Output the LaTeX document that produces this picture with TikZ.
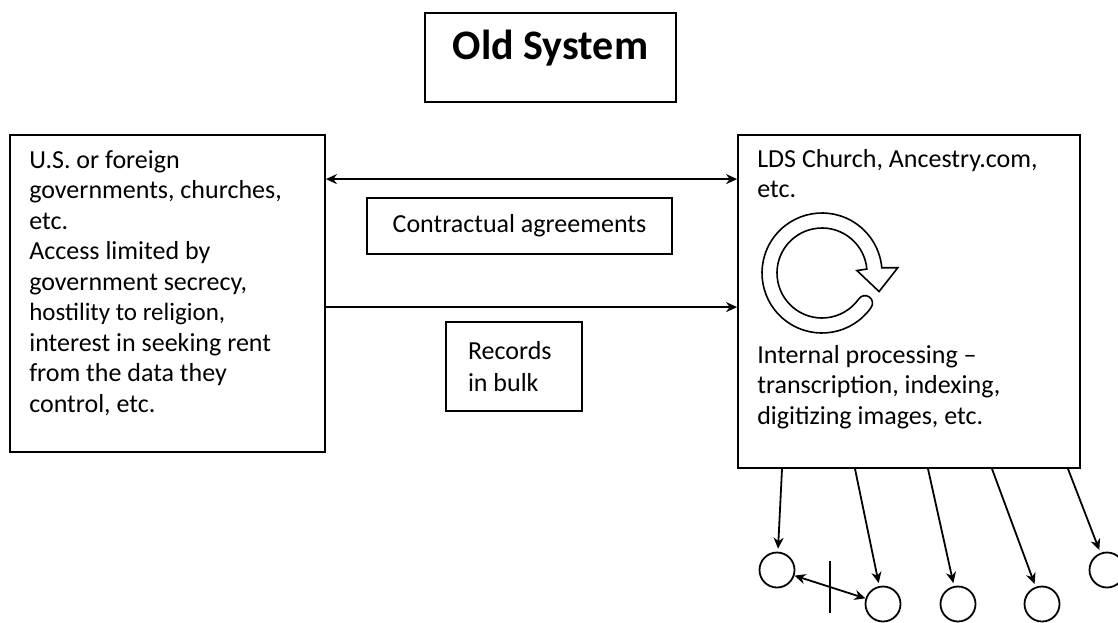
\documentclass[tikz,border=0pt]{standalone}
\usepackage{fontspec}
\setmainfont{Carlito}
\usetikzlibrary{arrows.meta}

\tikzset{
  box/.style={draw, line width=1.8pt, inner sep=0pt},
  link/.style={line width=1.8pt, -{Stealth[length=11pt, width=10pt]}},
  twoway/.style={line width=1.8pt, {Stealth[length=11pt, width=10pt]}-{Stealth[length=11pt, width=10pt]}},
  body/.style={font=\fontsize{26}{30.5}\selectfont, align=left, inner sep=0pt, anchor=north west},
}

\begin{document}
\begin{tikzpicture}[x=1pt, y=-1pt]
\useasboundingbox (0,0) rectangle (1118,623);

% Title
\node[box, minimum width=251, minimum height=89, text depth=26pt, font=\fontsize{42}{50}\selectfont\bfseries] (title) at (550.5,57.5) {Old System};

% Record holders (left)
\node[box, minimum width=315, minimum height=317] (gov) at (167.5,293.5) {};
\node[body] (govtxt) at ([xshift=20, yshift=-16]gov.north west)
{U.S. or foreign\\governments, churches,\\etc.\\Access limited by\\government secrecy,\\{\fontsize{25}{30.5}\selectfont hostility to religion,}\\interest in seeking rent\\from the data they\\control, etc.};

% Genealogy organisations (right)
\node[box, minimum width=342, minimum height=333] (church) at (909,301.5) {};
\node[body] (lds) at ([xshift=20, yshift=-15]church.north west) {LDS Church, Ancestry.com,\\etc.};
\node[body] (proc) at ([xshift=20, yshift=-211]church.north west)
{Internal processing --\\transcription, indexing,\\digitizing images, etc.};

% Labels between the boxes
\node[box, minimum width=305, minimum height=56, font=\fontsize{26}{30.5}\selectfont] (agree) at (519.5,226) {Contractual agreements};
\node[box, minimum width=136, minimum height=89, text width=92, align=flush left, font=\fontsize{26}{32}\selectfont] (bulk) at (514,366.5) {Records\\in bulk};

% Arrows between the boxes
\draw[twoway] ([yshift=-45]gov.north east) -- ([yshift=-45]church.north west);
\draw[link] ([yshift=-173]gov.north east) -- ([yshift=-173]church.north west);

% Processing cycle
\draw[line width=1.6pt, shift={(822,273)}]
  (35:60) arc[start angle=35, end angle=355, radius=60]
  -- (356:76) -- (378:60) -- (356:35) -- (355:45)
  arc[start angle=355, end angle=35, radius=45]
  arc[start angle=215, end angle=395, radius=7.5] -- cycle;

% Users
\foreach \n/\cx/\cy in {1/777/570, 2/883/604, 3/958/604, 4/1042/604, 5/1107/570} {
    \node[draw, circle, line width=1.8pt, minimum size=35, inner sep=0pt] (c\n) at (\cx,\cy) {};
}
\foreach \n/\dx in {1/-127, 2/-54, 3/19, 4/83, 5/159} {
    \draw[link, shorten >=3pt] ([xshift=\dx]church.south) -- (c\n);
}

% Blocked exchange between users
\draw[twoway] (c1) -- coordinate (cut) (c2);
\draw[line width=1.8pt] ([yshift=26]cut) -- ([yshift=-26]cut);
\end{tikzpicture}
\end{document}
